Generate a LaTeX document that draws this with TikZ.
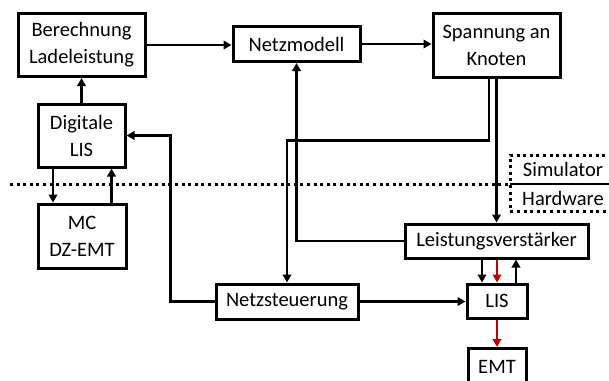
\documentclass[tikz,border=0pt]{standalone}
\usepackage{fontspec}
\setmainfont{Carlito}
\usetikzlibrary{arrows.meta}
\begin{document}
\begin{tikzpicture}[x=1pt,y=-1pt,
  block/.style={draw=black,line width=3pt,fill=white,align=center,inner sep=0pt,
    font=\fontsize{20.5}{27}\selectfont},
  conn/.style={line width=2.5pt,-{Triangle[length=8pt,width=8.5pt]}},
  redconn/.style={conn,draw=sigred},
  sep/.style={line width=3pt,dash pattern=on 3pt off 3.6pt},
  lbl/.style={font=\fontsize{20.5}{24}\selectfont,inner sep=0pt}
]
\definecolor{sigred}{RGB}{192,0,0}
\useasboundingbox (0,0) rectangle (609,380);

% blocks
\node[block,minimum width=127pt,minimum height=63pt] (ber) at (81.5,45) {Berechnung\\Ladeleistung};
\node[block,minimum width=127pt,minimum height=35pt] (netz) at (296.5,44) {Netzmodell};
\node[block,minimum width=127pt,minimum height=64pt] (spa) at (496.5,45) {Spannung an\\Knoten};
\node[block,minimum width=87pt,minimum height=63pt] (dig) at (81.5,135.5) {Digitale\\LIS};
\node[block,minimum width=88pt,minimum height=64pt] (mc) at (82,236) {MC\\DZ-EMT};
\node[block,minimum width=142pt,minimum height=35pt] (nst) at (287,301.5) {Netzsteuerung};
\node[block,minimum width=183pt,minimum height=34pt] (lv) at (496.5,241) {Leistungsverstärker};
\node[block,minimum width=60pt,minimum height=34pt] (lis) at (497,301) {LIS};
\node[block,minimum width=58pt,minimum height=36pt,anchor=north] (emt) at (497,347) {EMT};

% simulator / hardware boundary
\coordinate (sepL) at (10,184);
\coordinate (sepM) at (510,184);
\coordinate (sepR) at (612,184);
\draw[sep] (sepL) -- (sepM);
\draw[sep] (612,155) -- (510,155) -- (510,211) -- (612,211);
\draw[line width=2.6pt] (sepM) -- (sepR);
\node[lbl] (sim) at (563,169) {Simulator};
\node[lbl] (hw) at (563,198) {Hardware};

% signal flow
\draw[conn] (ber.east) -- (ber.east -| netz.west);
\draw[conn] (netz.east) -- (netz.east -| spa.west);
\draw[conn] (dig.north) -- (ber.south);
\draw[conn] ([xshift=-28.5pt]dig.south) -- ([xshift=-28.5pt]dig.south |- mc.north);
\draw[conn] ([xshift=29.5pt]mc.north) -- ([xshift=29.5pt]mc.north |- dig.south);
\draw[conn] (nst.west) -- ++(-44,0) |- (dig.east);
\draw[conn] ([xshift=-7.5pt]spa.south) -- ++(0,62) -| (nst.north);
\draw[conn] (lv.west) -| (netz.south);
\draw[conn] (spa.south) -- (lv.north);
\draw[conn] ([xshift=-15pt]lis.north |- lv.south) -- ([xshift=-15pt]lis.north);
\draw[redconn] (lis.north |- lv.south) -- (lis.north);
\draw[conn] ([xshift=19pt]lis.north) -- ([xshift=19pt]lis.north |- lv.south);
\draw[conn] (nst.east) -- (nst.east -| lis.west);
\draw[redconn] (lis.south) -- (emt.north);
\end{tikzpicture}
\end{document}
